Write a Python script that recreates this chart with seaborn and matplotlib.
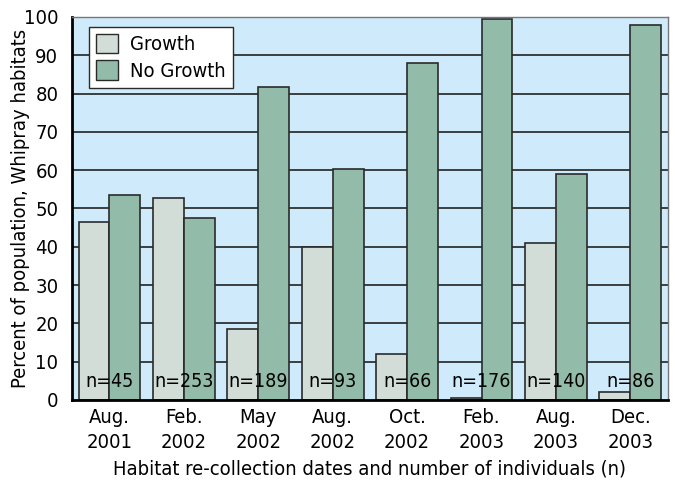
import numpy as np
import pandas as pd
import matplotlib
matplotlib.use('Agg')
import matplotlib.pyplot as plt
import seaborn as sns
from matplotlib.patches import Patch

dates = ['Aug.\n2001', 'Feb.\n2002', 'May\n2002', 'Aug.\n2002',
         'Oct.\n2002', 'Feb.\n2003', 'Aug.\n2003', 'Dec.\n2003']
growth = [46.5, 52.6, 18.4, 39.9, 12.1, 0.5, 41.1, 2.0]
no_growth = [53.5, 47.4, 81.6, 60.2, 87.9, 99.4, 58.9, 97.9]
n_labels = ['n=45', 'n=253', 'n=189', 'n=93', 'n=66', 'n=176', 'n=140', 'n=86']

df = pd.DataFrame({'date': dates * 2,
                   'pct': growth + no_growth,
                   'status': ['Growth'] * len(dates) + ['No Growth'] * len(dates)})

sns.set_style('white')
plt.rcParams['font.family'] = ['DejaVu Sans']
plt.rcParams['font.stretch'] = 'condensed'
plt.rcParams['text.color'] = 'black'
plt.rcParams['axes.labelcolor'] = 'black'
plt.rcParams['xtick.color'] = 'black'
plt.rcParams['ytick.color'] = 'black'

colors = {'Growth': '#D3DDD8', 'No Growth': '#92BBA9'}

fig, ax = plt.subplots(figsize=(6.75, 4.83), dpi=100)
fig.subplots_adjust(left=0.107, right=0.989, top=0.965, bottom=0.172)
ax.set_facecolor('#CFEBFB')

ax.set_ylim(0, 100)
ax.set_yticks(range(0, 101, 10))
for y in range(10, 100, 10):
    ax.axhline(y, color='#222222', lw=1.2, zorder=1)

sns.barplot(data=df, x='date', y='pct', hue='status', palette=colors,
            width=0.83, gap=0, edgecolor='#2a2a2a', linewidth=1.2,
            saturation=1, legend=False, ax=ax, zorder=2)

for i, lab in enumerate(n_labels):
    ax.text(i, 2.3, lab, ha='center', va='bottom', fontsize=14, zorder=3)

ax.set_xlim(-0.5, len(dates) - 0.5)
ax.set_xticks(np.arange(0.5, len(dates) - 1, 1), minor=True)
ax.tick_params(axis='x', which='major', length=0, labelsize=14.5, pad=5.5)
ax.tick_params(axis='x', which='minor', direction='in', length=5, width=1.5, color='black')
ax.tick_params(axis='y', direction='in', length=5, width=1.2, labelsize=14.5, pad=10)
plt.setp(ax.get_xticklabels(), linespacing=1.45)

ax.set_xlabel('Habitat re-collection dates and number of individuals (n)', fontsize=14.5, labelpad=5)
ax.set_ylabel('Percent of population, Whipray habitats', fontsize=14.5)
ax.yaxis.set_label_coords(-0.071, 0.5)

for side in ['left', 'bottom']:
    ax.spines[side].set_color('black')
    ax.spines[side].set_linewidth(2)
for side in ['top', 'right']:
    ax.spines[side].set_color('#777777')
    ax.spines[side].set_linewidth(1)

handles = [Patch(facecolor=colors[k], edgecolor='#2a2a2a', label=k) for k in colors]
leg = ax.legend(handles=handles, loc='upper left', bbox_to_anchor=(0.028, 0.974),
                borderaxespad=0, fontsize=14.5, frameon=True, fancybox=False,
                edgecolor='#2a2a2a', framealpha=1, handlelength=1.1, handleheight=1.1,
                borderpad=0.35, labelspacing=0.3, handletextpad=0.6)
leg.get_frame().set_linewidth(1)
leg.set_zorder(5)

plt.savefig('out.png', dpi=100)
